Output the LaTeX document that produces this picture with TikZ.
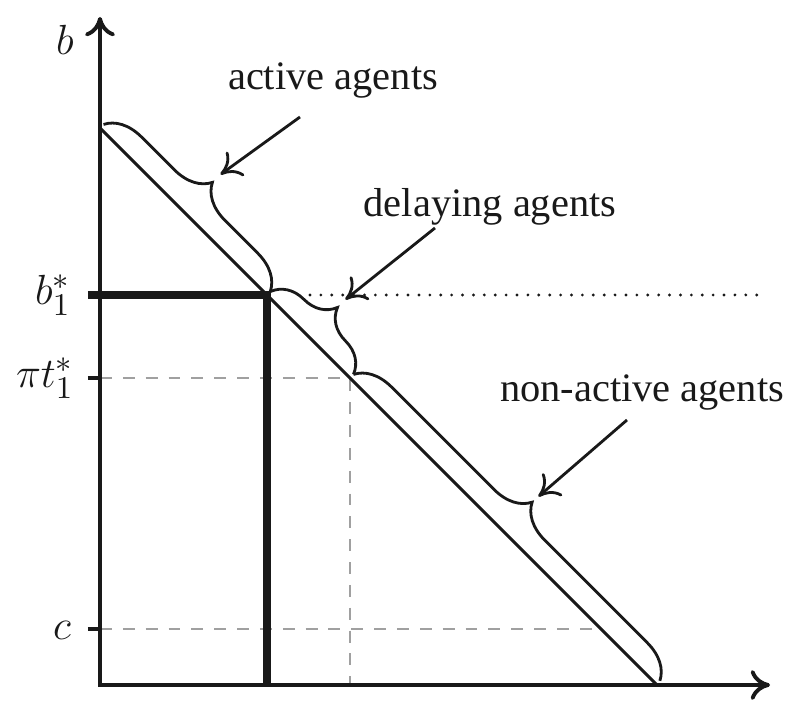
\documentclass[tikz,border=0pt]{standalone}
\usepackage{fontspec}
\setmainfont{Liberation Serif}
\usepackage{xcolor}
\definecolor{ink}{RGB}{25, 25, 25}
\definecolor{guidegray}{RGB}{160, 160, 160}
\usetikzlibrary{arrows.meta, decorations.pathreplacing, calc}

\tikzset{
    axisline/.style={ink, line width=1.1pt},
    optline/.style={ink, line width=2.3pt},
    guideline/.style={guidegray, line width=0.75pt, dash pattern=on 3.4pt off 3.1pt},
    agentbrace/.style={ink, line width=0.8pt,
        decoration={brace, amplitude=0.36cm, raise=0.05cm}, decorate},
    agentlabel/.style={font=\fontsize{11.5}{13}\selectfont, text=ink},
    ticklabel/.style={font=\fontsize{12.5}{14}\selectfont, text=ink},
}

\begin{document}
\begin{tikzpicture}[>={To[length=5.5pt,width=8.5pt]}]
\useasboundingbox (-1,-0.17) rectangle (7,6.85);

% === Puntos clave ===
\coordinate (O)  at (0, 0);
\coordinate (D0) at (0, 5.57);
\coordinate (D1) at (5.57, 0);
\coordinate (B)  at (1.67, 3.90);
\coordinate (P)  at (2.50, 3.07);
\coordinate (C)  at (5.01, 0.56);

% === Lineas guia ===
\draw[guideline] (0, 3.07) -- (P) -- (2.50, 0);
\draw[guideline] (0, 0.56) -- (C);
\draw[ink, line width=0.9pt, line cap=round, dash pattern=on 0pt off 3.1pt]
    (2.10, 3.90) -- (6.65, 3.90);

% === Marcas en el eje ===
\draw[axisline] (-0.12, 3.07) -- (0, 3.07);
\draw[axisline] (-0.12, 0.56) -- (0, 0.56);

% === Umbral b_1^* ===
\draw[optline] (-0.12, 3.90) -- (B) -- (1.67, 0);

% === Ejes ===
\draw[axisline, <->] (0, 6.68) -- (O) -- (6.70, 0);

% === Diagonal ===
\draw[ink, line width=0.85pt] (D0) -- (D1);

% === Etiquetas del eje ===
\node[ticklabel] (blab)  at (-0.35, 6.45) {$b$};
\node[ticklabel] (b1lab) at (-0.47, 3.90) {$b_1^*$};
\node[ticklabel] (pilab) at (-0.55, 3.07) {$\pi t_1^*$};
\node[ticklabel] (clab)  at (-0.38, 0.55) {$c$};

% === Llaves ===
\draw[agentbrace] (D0) -- (B);
\draw[agentbrace] (B) -- (P);
\draw[agentbrace] (P) -- (D1);

\coordinate (acttip) at ($($(D0)!0.5!(B)$) + (0.37, 0.37)$);
\coordinate (deltip) at ($($(B)!0.5!(P)$) + (0.37, 0.37)$);
\coordinate (nontip) at ($($(P)!0.5!(D1)$) + (0.35, 0.35)$);

% === Textos y flechas ===
\node[agentlabel] (actlab) at (2.33, 6.05) {active agents};
\node[agentlabel] (dellab) at (3.90, 4.78) {delaying agents};
\node[agentlabel] (nonlab) at (5.42, 2.93) {non-active agents};

\draw[->, ink, line width=0.8pt] ($(actlab) + (-0.33, -0.37)$) -- (acttip);
\draw[->, ink, line width=0.8pt] ($(dellab) + (-0.55, -0.21)$) -- (deltip);
\draw[->, ink, line width=0.8pt] ($(nonlab) + (-0.15, -0.28)$) -- (nontip);

\end{tikzpicture}
\end{document}
